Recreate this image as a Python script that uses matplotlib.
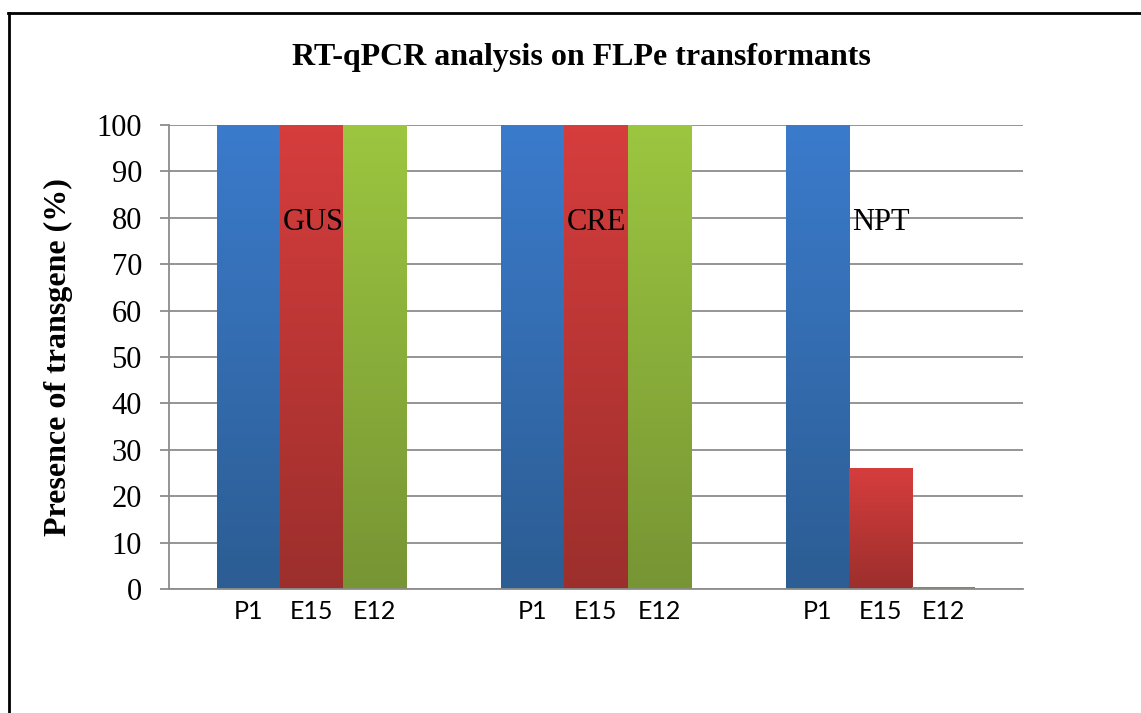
import matplotlib.pyplot as plt
import numpy as np
from matplotlib.colors import LinearSegmentedColormap
from matplotlib.lines import Line2D

groups = ["GUS", "CRE", "NPT"]
series = ["P1", "E15", "E12"]
p1 = [100, 100, 100]
e15 = [100, 100, 26]
e12 = [100, 100, 0.5]

# top colour, bottom colour for each series
grads = [("#3b7bcc", "#2c5d93"), ("#d63d3d", "#9c2f2c"), ("#9cc640", "#779534")]

plt.rcParams['font.family'] = ['Liberation Serif', 'DejaVu Serif']

fig = plt.figure(figsize=(11.41, 7.13), dpi=100)
ax = fig.add_axes([169 / 1141, 1 - 589 / 713, (1023 - 169) / 1141, (589 - 125) / 713])

x = np.arange(len(groups))
w = 0.222
offsets = [-w, 0, w]
values = [p1, e15, e12]

ax.set_xlim(-0.5, 2.5)
ax.set_ylim(0, 100)
ax.set_yticks(np.arange(0, 101, 10))
ax.grid(axis='y', color='#8c8c8c', linewidth=1.3)
ax.set_axisbelow(True)

for s, (vals, off, (ctop, cbot)) in enumerate(zip(values, offsets, grads)):
    rects = ax.bar(x + off, vals, w, color='none', edgecolor='none', zorder=2)
    cmap = LinearSegmentedColormap.from_list(series[s], [cbot, ctop])
    grad = np.linspace(0, 1, 256).reshape(-1, 1)
    for r in rects:
        x0, h = r.get_x(), r.get_height()
        if h < 2:
            # very small bar: draw a flat green sliver
            r.set_facecolor(cbot)
            continue
        im = ax.imshow(grad, cmap=cmap, origin='lower', aspect='auto',
                       extent=[x0, x0 + r.get_width(), 0, h], zorder=2)
        im.set_clip_path(r)

ax.set_xlim(-0.5, 2.5)
ax.set_ylim(0, 100)

# bar group names written inside the bars
for i, g in enumerate(groups):
    ax.text(x[i] - w / 2 + 0.01, 79, g, fontsize=22, va='center', ha='left', zorder=3)

ticks = np.concatenate([x + o for o in offsets])
labels = [series[j] for j in range(3) for _ in groups]
ax.set_xticks(ticks)
ax.set_xticklabels(labels, fontfamily='Lato', fontsize=18)
ax.tick_params(axis='x', length=0, pad=8)
ax.tick_params(axis='y', labelsize=22, length=6.5, width=1.3, color='#8c8c8c', pad=13)

for side in ['top', 'right']:
    ax.spines[side].set_visible(False)
for side in ['left', 'bottom']:
    ax.spines[side].set_color('#8c8c8c')
    ax.spines[side].set_linewidth(1.3)

fig.text(581 / 1141, 1 - 57 / 713, "RT-qPCR analysis on FLPe transformants",
         fontsize=23, fontweight='bold', ha='center', va='center')
fig.text(58 / 1141, 1 - 357 / 713, "Presence of transgene (%)",
         fontsize=23, fontweight='bold', rotation=90, ha='center', va='center')

# outer frame (left and top edges visible)
fig.add_artist(Line2D([8.5 / 1141, 8.5 / 1141], [0, 1 - 13 / 713], color='black', lw=2))
fig.add_artist(Line2D([8 / 1141, 1], [1 - 13 / 713, 1 - 13 / 713], color='black', lw=2))

fig.savefig("out.png", dpi=100)
